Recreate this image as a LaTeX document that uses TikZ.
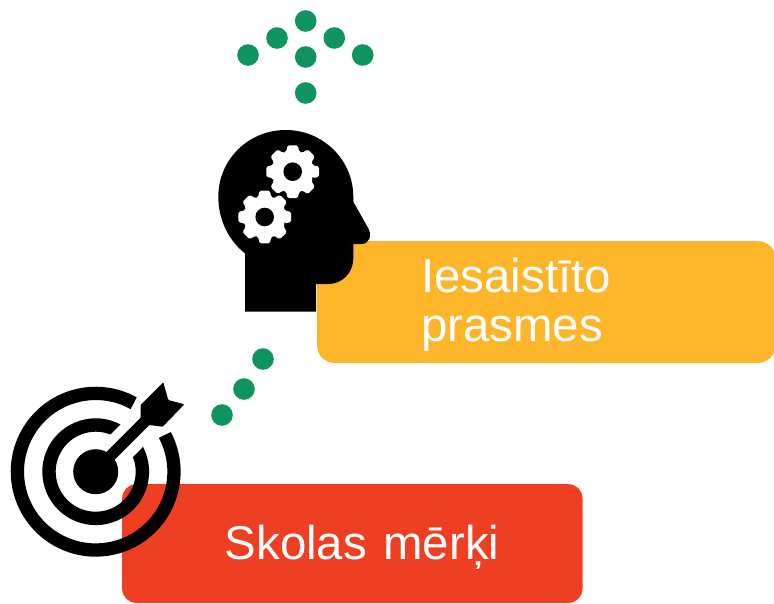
\documentclass[tikz,border=0pt]{standalone}
\usepackage{fontspec}
\setmainfont{Liberation Sans}
\definecolor{dotgreen}{HTML}{0F9460}
\definecolor{boxyellow}{HTML}{FDB52A}
\definecolor{boxred}{HTML}{EE3F23}
\tikzset{
  dot/.style={circle,fill=dotgreen,draw=none,inner sep=0pt,minimum size=21.6pt},
  labelbox/.style={rectangle,draw=none,inner sep=0pt,anchor=north west},
  boxtext/.style={text=white,inner sep=0pt,align=left,font=\fontsize{47.4pt}{49.4pt}\selectfont},
  gearpic/.pic={
    \fill[white,rounded corners=1.6pt] (-18:21pt)
      \foreach \a in {0,45,...,315} {
        -- (\a-18:21pt) -- (\a-11:26.9pt) -- (\a+11:26.9pt) -- (\a+18:21pt)
      } -- cycle;
    \fill[black] (0,0) circle[radius=9.3pt];
  }
}
\begin{document}
\begin{tikzpicture}[x=1pt,y=-1pt]
\useasboundingbox (0,0) rectangle (774,603);
% boxes
\node[labelbox,fill=boxyellow,rounded corners=17pt,minimum width=458pt,minimum height=121.7pt] (skills) at (317,241) {};
\node[labelbox,fill=boxred,rounded corners=14pt,minimum width=460.3pt,minimum height=118.7pt] (goals) at (122,484) {};
% labels
\node[boxtext,anchor=base west] (skillsText) at (421,341.7) {Iesaistīto\\[0pt]prasmes};
\node[boxtext,anchor=base west] (goalsText) at (224.5,559.5) {\spaceskip=16.5pt Skolas mērķi};
% dots
\node[dot] (u1) at (305.7,21) {};
\node[dot] (u2) at (277,38) {};
\node[dot] (u3) at (334.3,38) {};
\node[dot] (u4) at (248,55) {};
\node[dot] (u5) at (305.7,57) {};
\node[dot] (u6) at (362.7,55) {};
\node[dot] (u7) at (305.7,93) {};
\node[dot] (l1) at (263,359) {};
\node[dot] (l2) at (244,389) {};
\node[dot] (l3) at (222,415) {};
% head
\fill[black] (245,311.7) -- (245,253.3)
  .. controls (229,241) and (218.3,220) .. (218.3,196.7)
  .. controls (218.3,160) and (248,130) .. (285.8,130)
  .. controls (323,130) and (353.3,160) .. (353.3,196.7)
  -- (353.3,201.7) -- (368.3,228.3)
  .. controls (372,235) and (370,244) .. (361,244)
  -- (353.3,244) -- (353.3,258.3)
  .. controls (353.3,273) and (342,284) .. (328.3,284)
  -- (316,284) -- (316,311.7) -- cycle;
\pic at (292.7,171.7) {gearpic};
\pic at (264.7,217) {gearpic};
% target
\begin{scope}[shift={(95.7,471.7)},y=1pt]
  \draw[black,line width=13.3pt,line cap=butt] (61:78.3pt) arc[start angle=61,end angle=388,radius=78.3pt];
  \fill[black] (62.4:53.4pt) arc[start angle=62.4,end angle=387.6,radius=53.4pt]
     -- (381.4:40pt) arc[start angle=381.4,end angle=68.6,radius=40pt] -- cycle;
  \fill[black] (0,0) circle[radius=22.5pt];
\end{scope}
\fill[black,rounded corners=0.8pt] (97,461.4) -- (140.7,417.7) -- (140.7,405) -- (163.3,382.3)
  -- (168.3,400) -- (184.3,404.3) -- (162.7,426.7) -- (149.3,425) -- (103,471.3) -- cycle;
\end{tikzpicture}
\end{document}
